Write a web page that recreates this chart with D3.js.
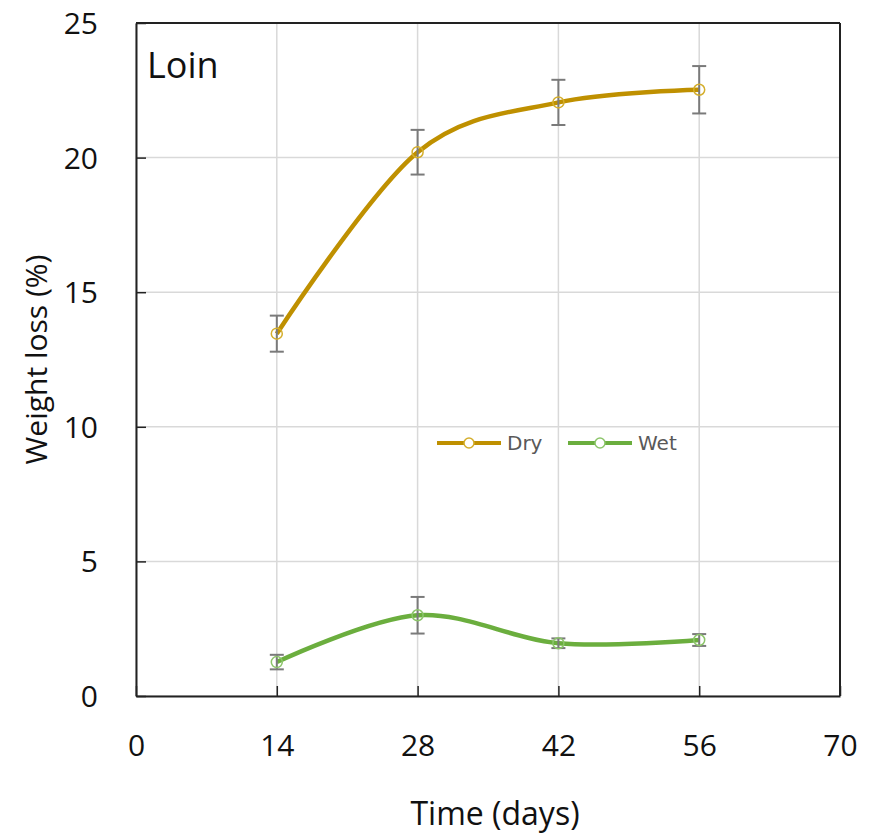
<!DOCTYPE html>
<html>
<head>
<meta charset="utf-8">
<script src="https://cdn.jsdelivr.net/npm/d3@7"></script>
<style>
  body { margin: 0; background: #fff; }
  text { font-family: "Open Sans", "Liberation Sans", sans-serif; }
</style>
</head>
<body>
<div id="chart"></div>
<script>
// Data
const days = [14, 28, 42, 56];
const dryMean = [13.46, 20.2, 22.05, 22.52];
const dryErr = [0.67, 0.83, 0.84, 0.88];
const wetMean = [1.26, 3.0, 1.96, 2.08];
const wetErr = [0.27, 0.68, 0.18, 0.22];
const xTicks = [0, 14, 28, 42, 56, 70];
const yTicks = [0, 5, 10, 15, 20, 25];

const series = [
  { name: "Dry", mean: dryMean, err: dryErr, color: "#BF9000", marker: "#D4AE2C" },
  { name: "Wet", mean: wetMean, err: wetErr, color: "#6BAE3E", marker: "#8CC56A" }
];

const W = 875, H = 833;
const margin = { top: 23, right: 35, bottom: 137, left: 136 };
const width = W - margin.left - margin.right;
const height = H - margin.top - margin.bottom;

const svg = d3.select("#chart")
  .append("svg")
  .attr("width", W)
  .attr("height", H);

const g = svg.append("g")
  .attr("transform", "translate(" + margin.left + "," + margin.top + ")");

const x = d3.scaleLinear().domain([0, 70]).range([0, width]);
const y = d3.scaleLinear().domain([0, 25]).range([height, 0]);

// gridlines
g.selectAll(".vgrid")
  .data(xTicks)
  .enter().append("line")
  .attr("x1", d => x(d)).attr("x2", d => x(d))
  .attr("y1", 0).attr("y2", height)
  .attr("stroke", "#d9d9d9").attr("stroke-width", 1.5);

g.selectAll(".hgrid")
  .data(yTicks)
  .enter().append("line")
  .attr("x1", 0).attr("x2", width)
  .attr("y1", d => y(d)).attr("y2", d => y(d))
  .attr("stroke", "#d9d9d9").attr("stroke-width", 1.5);

// axes with inward ticks
const xAxis = g.append("g")
  .attr("transform", "translate(0," + height + ")")
  .call(d3.axisBottom(x).tickValues(xTicks).tickSizeInner(-10).tickSizeOuter(0).tickPadding(39));
const yAxis = g.append("g")
  .call(d3.axisLeft(y).tickValues(yTicks).tickSizeInner(-10).tickSizeOuter(0).tickPadding(38));

[xAxis, yAxis].forEach(a => {
  a.selectAll("text").attr("font-size", 30).attr("fill", "#111")
    .style("font-family", "'Open Sans', sans-serif");
  a.selectAll("line").attr("stroke", "#222").attr("stroke-width", 1.5);
  a.select(".domain").attr("stroke", "#222").attr("stroke-width", 2);
});
yAxis.selectAll("text").attr("dy", "0.35em");

// frame top/right
g.append("line").attr("x1", 0).attr("x2", width).attr("y1", 0).attr("y2", 0)
  .attr("stroke", "#222").attr("stroke-width", 2);
g.append("line").attr("x1", width).attr("x2", width).attr("y1", 0).attr("y2", height)
  .attr("stroke", "#222").attr("stroke-width", 2);

const line = d3.line()
  .x(d => x(d[0]))
  .y(d => y(d[1]))
  .curve(d3.curveCatmullRom.alpha(0));

series.forEach(s => {
  const pts = days.map((d, i) => [d, s.mean[i], s.err[i]]);

  g.append("path")
    .datum(pts)
    .attr("d", line)
    .attr("fill", "none")
    .attr("stroke", s.color)
    .attr("stroke-width", 4.5);

  // error bars
  const eb = g.append("g").attr("stroke", "#7a7a7a").attr("stroke-width", 2);
  eb.selectAll(".v").data(pts).enter().append("line")
    .attr("x1", d => x(d[0])).attr("x2", d => x(d[0]))
    .attr("y1", d => y(d[1] + d[2])).attr("y2", d => y(d[1] - d[2]));
  eb.selectAll(".t").data(pts).enter().append("line")
    .attr("x1", d => x(d[0]) - 7).attr("x2", d => x(d[0]) + 7)
    .attr("y1", d => y(d[1] + d[2])).attr("y2", d => y(d[1] + d[2]));
  eb.selectAll(".b").data(pts).enter().append("line")
    .attr("x1", d => x(d[0]) - 7).attr("x2", d => x(d[0]) + 7)
    .attr("y1", d => y(d[1] - d[2])).attr("y2", d => y(d[1] - d[2]));

  g.selectAll(".m-" + s.name).data(pts).enter().append("circle")
    .attr("cx", d => x(d[0])).attr("cy", d => y(d[1]))
    .attr("r", 5.5)
    .attr("fill", "none")
    .attr("stroke", s.marker)
    .attr("stroke-width", 1.5);
});

// legend
const legend = g.append("g").attr("transform", "translate(301," + (443 - margin.top) + ")");
const legendX = [0, 131];
series.forEach((s, i) => {
  const lg = legend.append("g").attr("transform", "translate(" + legendX[i] + ",0)");
  lg.append("line").attr("x1", 0).attr("x2", 64).attr("y1", 0).attr("y2", 0)
    .attr("stroke", s.color).attr("stroke-width", 4);
  lg.append("circle").attr("cx", 32).attr("cy", 0).attr("r", 5)
    .attr("fill", "#fff").attr("stroke", s.marker).attr("stroke-width", 1.5);
  lg.append("text").attr("x", 70).attr("y", 0).attr("dy", "0.36em")
    .attr("font-size", 20).attr("fill", "#595959")
    .style("font-family", "'DejaVu Sans', sans-serif")
    .text(s.name);
});

// panel label
g.append("text").attr("x", 11).attr("y", 78 - margin.top)
  .attr("font-size", 36).attr("fill", "#111").text("Loin");

// axis titles
svg.append("text")
  .attr("x", 495).attr("y", 825)
  .attr("text-anchor", "middle").attr("font-size", 32).attr("fill", "#111")
  .text("Time (days)");
svg.append("text")
  .attr("transform", "translate(47," + (margin.top + height / 2) + ") rotate(-90)")
  .attr("text-anchor", "middle").attr("font-size", 30).attr("fill", "#111")
  .text("Weight loss (%)");
</script>
</body>
</html>
